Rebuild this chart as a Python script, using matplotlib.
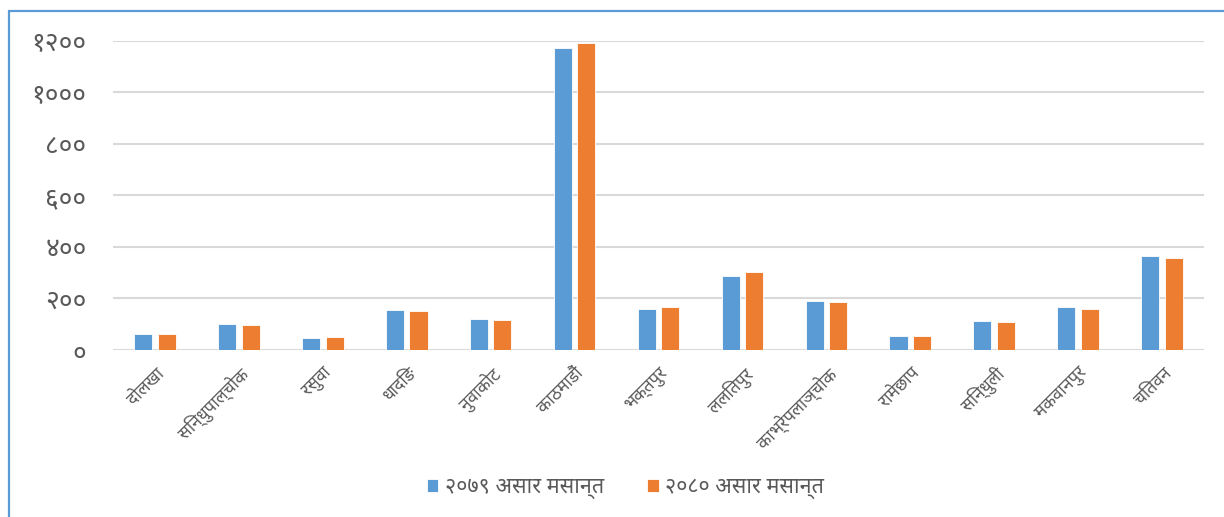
import matplotlib
matplotlib.use("Agg")
import matplotlib.pyplot as plt
from matplotlib.patches import Rectangle
import numpy as np

# ---- data ----
districts = ["दोलखा", "सिन्धुपाल्चोक", "रसुवा", "धादिङ", "नुवाकोट", "काठमाडौं",
             "भक्तपुर", "ललितपुर", "काभ्रेपलाञ्चोक", "रामेछाप", "सिन्धुली",
             "मकवानपुर", "चितवन"]
series_2079 = [63, 99, 48, 157, 119, 1170, 161, 288, 191, 55, 112, 165, 363]
series_2080 = [63, 97, 52, 153, 115, 1190, 167, 304, 187, 55, 109, 161, 356]
legend_labels = ["२०७९ असार मसान्त", "२०८० असार मसान्त"]
ytick_values = [0, 200, 400, 600, 800, 1000, 1200]
ytick_labels = ["०", "२००", "४००", "६००", "८००", "१०००", "१२००"]

FONT = ['Noto Sans Devanagari', 'Mukta', 'Ek Mukta', 'FreeSans', 'DejaVu Sans']
plt.rcParams['font.family'] = FONT

BLUE = "#5B9BD5"
ORANGE = "#ED7D31"
TXT = "#595959"
GRID = "#D9D9D9"

fig = plt.figure(figsize=(12.24, 5.17), dpi=100)
W, H = 1224, 517
ax = fig.add_axes([113 / W, 1 - 350 / H, (1204 - 113) / W, (350 - 40.7) / H])

x = np.arange(len(districts))
bw = 0.215
off = 0.14
ax.bar(x - off, series_2079, bw, color=BLUE, edgecolor="white", linewidth=0.6,
       label=legend_labels[0], zorder=3)
ax.bar(x + off, series_2080, bw, color=ORANGE, edgecolor="white", linewidth=0.6,
       label=legend_labels[1], zorder=3)

ax.set_xlim(-0.5, len(districts) - 0.5)
ax.set_ylim(0, 1200)
ax.set_yticks(ytick_values)
ax.set_yticklabels(ytick_labels, fontsize=19, color=TXT)
ax.yaxis.grid(True, color=GRID, linewidth=1.5, zorder=0)
ax.set_axisbelow(True)
ax.tick_params(axis='y', length=0, pad=19)
ax.tick_params(axis='x', length=0, pad=10)
ax.set_xticks(x)
ax.set_xticklabels(districts, rotation=45, ha='right', rotation_mode='anchor',
                   fontsize=12.5, color=TXT)
for s in ax.spines.values():
    s.set_visible(False)

fig.legend(loc='center', bbox_to_anchor=(0.511, 1 - 488 / H), ncol=2, frameon=False,
           fontsize=15.5, labelcolor=TXT, handlelength=0.55, handleheight=0.55,
           handletextpad=0.3, columnspacing=2.0)

# outer chart frame (partly outside image)
fig.patches.append(Rectangle((9 / W, -0.1), 1.2, 1 - 10.7 / H + 0.1,
                             transform=fig.transFigure, fill=False,
                             edgecolor="#5B9BD5", linewidth=1.6, zorder=10))

fig.savefig("out.png", dpi=100)
